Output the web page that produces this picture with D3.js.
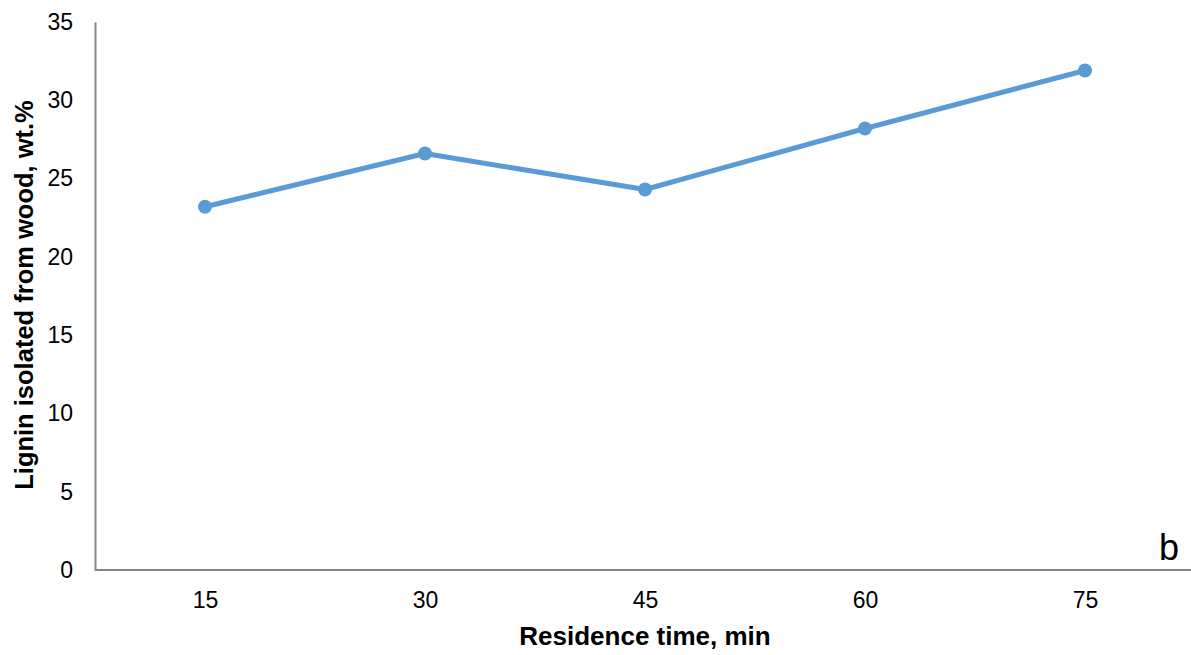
<!DOCTYPE html>
<html><head><meta charset="utf-8">
<script src="https://cdn.jsdelivr.net/npm/d3@7"></script>
<style>body{margin:0;background:#fff}svg{display:block;font-family:"Liberation Sans",Arial,sans-serif}</style>
</head><body><svg width="1191" height="655"></svg>
<script>
const categories = ["15","30","45","60","75"];
const values = [23.2, 26.6, 24.3, 28.2, 31.9];
const yTicks = [0,5,10,15,20,25,30,35];
const xTitle = "Residence time, min";
const yTitle = "Lignin isolated from wood, wt.%";
const panelLabel = "b";

(function(){
const svg = d3.select("svg");
const mLeft = 95, mRight = 1195, mTop = 22, mBottom = 570;
const x = d3.scalePoint().domain(categories).range([mLeft, mRight]).padding(0.5);
const y = d3.scaleLinear().domain([0,35]).range([mBottom, mTop]);

const yAxis = svg.append("g").attr("transform",`translate(${mLeft},0)`)
  .call(d3.axisLeft(y).tickValues(yTicks).tickSize(0).tickPadding(22));
yAxis.select(".domain").attr("stroke","#868686").attr("stroke-width",2);
yAxis.selectAll("text").attr("font-size",23).attr("fill","#000").attr("font-family","Liberation Sans, Arial, sans-serif");

const xAxis = svg.append("g").attr("transform",`translate(0,${mBottom})`)
  .call(d3.axisBottom(x).tickSize(0).tickPadding(22));
xAxis.select(".domain").attr("stroke","#868686").attr("stroke-width",2).attr("d",`M${mLeft},0H1191`);
xAxis.selectAll("text").attr("font-size",23).attr("fill","#000").attr("font-family","Liberation Sans, Arial, sans-serif");

const line = d3.line().x((d,i)=>x(categories[i])).y(d=>y(d));
svg.append("path").datum(values).attr("d",line).attr("fill","none")
  .attr("stroke","#5B9BD5").attr("stroke-width",5).attr("stroke-linejoin","round");
svg.selectAll("circle.pt").data(values).join("circle").attr("class","pt")
  .attr("cx",(d,i)=>x(categories[i])).attr("cy",d=>y(d)).attr("r",7).attr("fill","#5B9BD5");

svg.append("text").attr("x",645).attr("y",645).attr("text-anchor","middle")
  .attr("font-size",26).attr("font-weight","bold").text(xTitle);
svg.append("text").attr("transform","translate(33,295) rotate(-90)").attr("text-anchor","middle")
  .attr("font-size",25.5).attr("font-weight","bold").text(yTitle);
svg.append("text").attr("x",1169).attr("y",560).attr("text-anchor","middle")
  .attr("font-size",36).text(panelLabel);
})();
</script></body></html>
